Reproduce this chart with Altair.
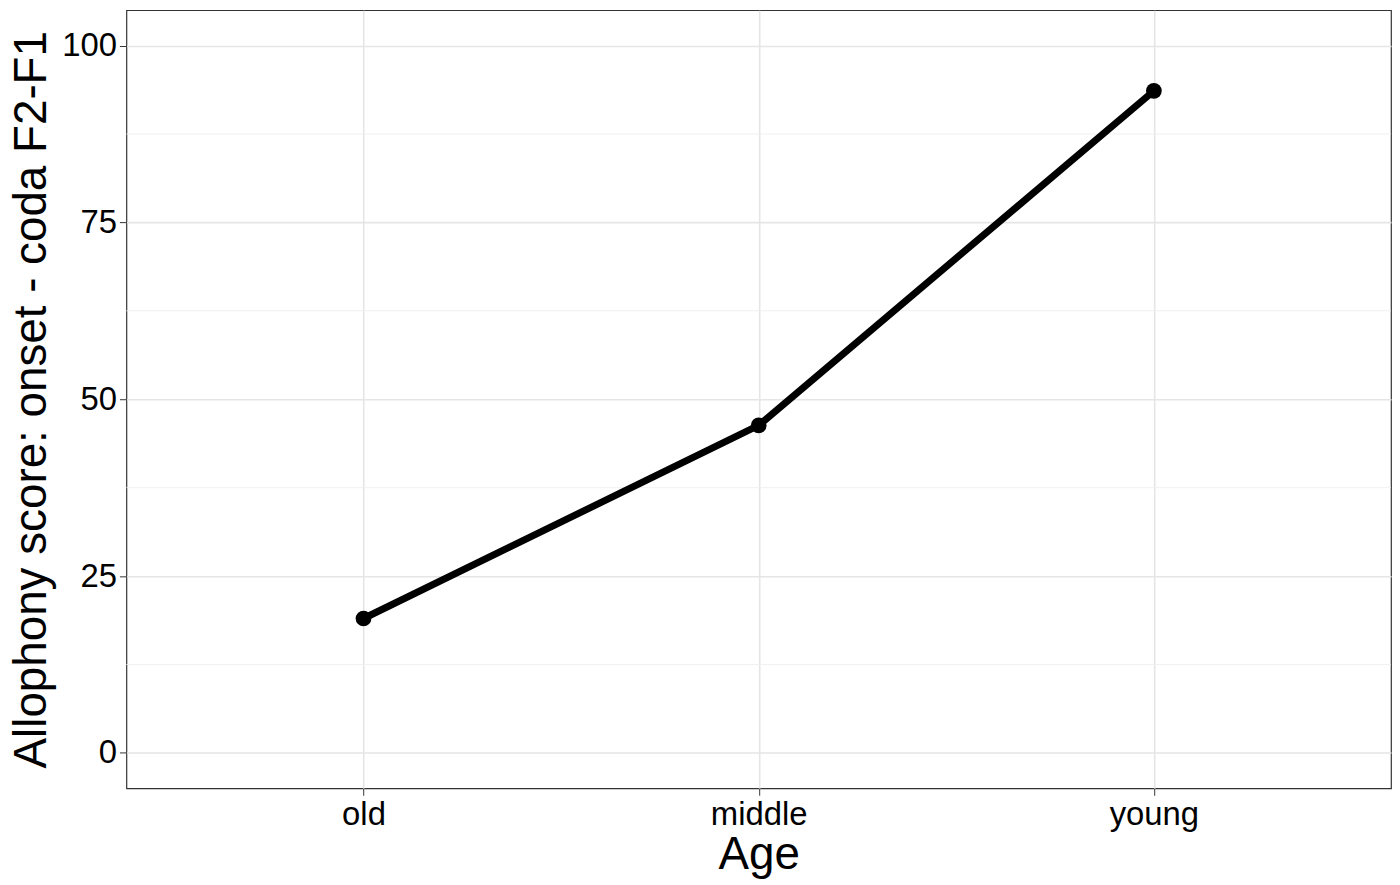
import altair as alt
import pandas as pd

ages = ["old", "middle", "young"]
scores = [19.0, 46.3, 93.6]
y_major = [0, 25, 50, 75, 100]
y_minor = [12.5, 37.5, 62.5, 87.5]

df = pd.DataFrame({"Age": ages, "score": scores})
minor_df = pd.DataFrame({"v": y_minor})

FONT = "Liberation Sans"
Y_TITLE = "Allophony score: onset - coda F2-F1"

x_enc = alt.X(
    "Age:N",
    sort=ages,
    scale=alt.Scale(type="point", padding=0.6),
    axis=alt.Axis(
        title="Age",
        labelAngle=0,
        grid=True,
        gridColor="#E5E5E5",
        gridWidth=1.6,
        domain=False,
        tickColor="#333333",
        tickSize=7,
        labelPadding=3,
        titlePadding=2,
    ),
)
y_scale = alt.Scale(domain=[-5, 105], nice=False, zero=False)
y_axis = alt.Axis(
    title=Y_TITLE,
    values=y_major,
    grid=True,
    gridColor="#E5E5E5",
    gridWidth=1.6,
    domain=False,
    tickColor="#333333",
    tickSize=7,
    labelPadding=3,
    titlePadding=6,
)
y_enc = alt.Y("score:Q", scale=y_scale, axis=y_axis, title=Y_TITLE)

minor = alt.Chart(minor_df).mark_rule(color="#EEEEEE", strokeWidth=0.9).encode(
    y=alt.Y("v:Q", scale=y_scale, axis=y_axis, title=Y_TITLE)
)

line = alt.Chart(df).mark_line(color="black", strokeWidth=7).encode(x=x_enc, y=y_enc)
points = alt.Chart(df).mark_point(filled=True, color="black", size=250, opacity=1).encode(
    x=x_enc, y=y_enc
)

chart = (
    alt.layer(minor, line, points)
    .properties(width=1271, height=782, padding=0, background="white")
    .configure_view(stroke="#333333", strokeWidth=1.2)
    .configure_axis(
        labelFont=FONT,
        titleFont=FONT,
        labelFontSize=33,
        titleFontSize=46,
        labelColor="black",
        titleColor="black",
        titleFontWeight="normal",
    )
)

chart.save("out.html", embed_options={"renderer": "svg", "actions": False})
